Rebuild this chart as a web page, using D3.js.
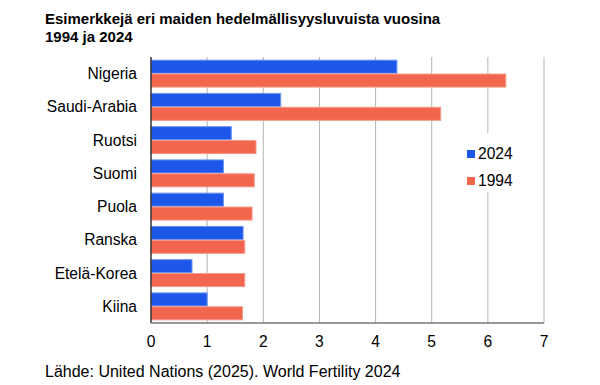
<!DOCTYPE html>
<html lang="fi">
<head>
  <meta charset="UTF-8" />
  <title>Hedelmällisyysluvut 1994 ja 2024</title>
  <script src="https://d3js.org/d3.v7.min.js"></script>
  <style>
    body {
      margin: 0;
      background: #fff;
      font-family: 'Liberation Sans', Arial, sans-serif;
    }
    svg text { fill: #000; }
  </style>
</head>
<body>
<svg width="600" height="385"></svg>
<script>
const maat = ["Nigeria", "Saudi-Arabia", "Ruotsi", "Suomi", "Puola", "Ranska", "Etelä-Korea", "Kiina"];
const arvot2024 = [4.38, 2.31, 1.43, 1.29, 1.29, 1.64, 0.73, 1.00];
const arvot1994 = [6.32, 5.16, 1.87, 1.84, 1.80, 1.67, 1.67, 1.63];
const sarjat = ["2024", "1994"];
const tikit = [0, 1, 2, 3, 4, 5, 6, 7];

const varit = { "2024": "#1c57ea", "1994": "#f2664e" };
const reunat = { "2024": "#6d93f0", "1994": "#f6998a" };

const svg = d3.select("svg");
const margin = { left: 151, right: 56, top: 57, bottom: 62 };
const width = 600, height = 385;

const x = d3.scaleLinear().domain([0, 7]).range([margin.left, width - margin.right]);
const y = d3.scaleBand().domain(maat).range([margin.top, height - margin.bottom]).paddingInner(0.19).paddingOuter(0.095);
const ySub = d3.scaleBand().domain(sarjat).range([0, y.bandwidth()]).paddingInner(0.06);

// otsikko
svg.append("text").attr("x", 45).attr("y", 23.5)
  .style("font-size", "15px").style("font-weight", "bold")
  .text("Esimerkkejä eri maiden hedelmällisyysluvuista vuosina");
svg.append("text").attr("x", 45).attr("y", 42)
  .style("font-size", "15px").style("font-weight", "bold")
  .text("1994 ja 2024");

// ruudukko
svg.append("g").selectAll("line")
  .data(tikit.slice(1))
  .enter().append("line")
  .attr("x1", d => x(d)).attr("x2", d => x(d))
  .attr("y1", margin.top).attr("y2", height - margin.bottom)
  .attr("stroke", "#b4b4b4").attr("stroke-width", 1);

const data = [];
maat.forEach((m, i) => {
  data.push({ maa: m, sarja: "2024", arvo: arvot2024[i] });
  data.push({ maa: m, sarja: "1994", arvo: arvot1994[i] });
});

svg.append("g").selectAll("rect")
  .data(data)
  .enter().append("rect")
  .attr("x", x(0))
  .attr("y", d => y(d.maa) + ySub(d.sarja))
  .attr("width", d => x(d.arvo) - x(0))
  .attr("height", ySub.bandwidth())
  .attr("fill", d => varit[d.sarja])
  .attr("stroke", d => reunat[d.sarja])
  .attr("stroke-width", 1);

// akselit
svg.append("line")
  .attr("x1", x(0)).attr("x2", x(0))
  .attr("y1", margin.top).attr("y2", height - margin.bottom)
  .attr("stroke", "#333").attr("stroke-width", 1.5);
svg.append("line")
  .attr("x1", x(0)).attr("x2", x(7))
  .attr("y1", height - margin.bottom).attr("y2", height - margin.bottom)
  .attr("stroke", "#777").attr("stroke-width", 1.5);

// kategoriat
svg.append("g").selectAll("text")
  .data(maat)
  .enter().append("text")
  .attr("x", 137)
  .attr("y", d => y(d) + y.bandwidth() / 2)
  .attr("dy", "0.35em")
  .attr("text-anchor", "end")
  .style("font-size", "15.6px")
  .text(d => d);

// x-tikit
svg.append("g").selectAll("text")
  .data(tikit)
  .enter().append("text")
  .attr("x", d => x(d))
  .attr("y", 347)
  .attr("text-anchor", "middle")
  .style("font-size", "15.6px")
  .text(d => d);

// selite
const selite = svg.append("g");
selite.append("rect").attr("x", 462).attr("y", 133).attr("width", 80).attr("height", 59).attr("fill", "#fff");
sarjat.forEach((s, i) => {
  selite.append("rect").attr("x", 467).attr("y", 150 + i * 27).attr("width", 8).attr("height", 8).attr("fill", varit[s]);
  selite.append("text").attr("x", 478).attr("y", 159 + i * 26.5).style("font-size", "15.6px").text(s);
});

// lähde
svg.append("text").attr("x", 45).attr("y", 377)
  .style("font-size", "16px")
  .text("Lähde: United Nations (2025). World Fertility 2024");
</script>
</body>
</html>
